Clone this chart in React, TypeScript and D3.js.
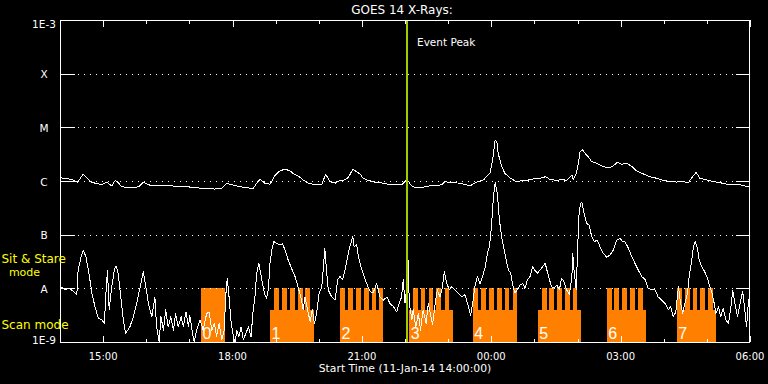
import React from 'react';
import * as d3 from 'd3';

// ---------- DATA ----------
// time axis: hours since start (11-Jan-14 14:00:00)
const xMajorHours = [1, 4, 7, 10, 13, 16];
const xMajorLabels = ['15:00', '18:00', '21:00', '00:00', '03:00', '06:00'];
const xMinorHours = [2, 3, 5, 6, 8, 9, 11, 12, 14, 15];

// flux axis (W/m^2)
const yLevels = [1e-3, 1e-4, 1e-5, 1e-6, 1e-7, 1e-8, 1e-9];
const yLabels = ['1E-3', 'X', 'M', 'C', 'B', 'A', '1E-9'];

// GOES 14 long channel (1-8 Å): [hour, log10 flux]
const longChannel: [number, number][] = [
  [0.02, -5.94], [0.27, -5.97], [0.41, -6.02], [0.54, -5.87], [0.70, -6.01], [0.81, -6.04], [0.97, -6.07],
  [1.08, -6.02], [1.20, -6.09], [1.28, -5.99], [1.35, -6.03], [1.43, -6.11], [1.66, -6.12], [1.82, -6.11],
  [1.93, -6.02], [2.09, -6.08], [2.36, -6.09], [2.59, -6.09], [2.82, -6.11], [2.98, -6.11], [3.21, -6.13],
  [3.44, -6.14], [3.59, -6.15], [3.75, -6.14], [3.87, -6.04], [3.98, -6.07], [4.21, -6.11], [4.37, -6.13],
  [4.48, -6.14], [4.56, -6.04], [4.64, -5.97], [4.75, -6.04], [4.87, -6.06], [4.99, -5.89], [5.10, -5.81],
  [5.22, -5.78], [5.33, -5.81], [5.41, -5.86], [5.53, -5.91], [5.64, -5.98], [5.76, -6.04], [5.91, -6.07],
  [6.07, -6.07], [6.16, -5.87], [6.26, -6.01], [6.38, -6.04], [6.49, -5.99], [6.61, -5.98], [6.69, -5.93],
  [6.79, -5.78], [6.88, -5.83], [6.96, -5.87], [7.03, -5.95], [7.15, -5.99], [7.30, -6.02], [7.42, -6.03],
  [7.61, -6.06], [7.92, -6.07], [8.05, -5.97], [8.12, -6.06], [8.19, -6.11], [8.31, -6.13], [8.46, -6.11],
  [8.58, -6.09], [8.73, -6.09], [8.85, -6.07], [8.93, -6.01], [9.04, -6.03], [9.28, -6.04], [9.51, -6.09],
  [9.66, -6.02], [9.82, -5.98], [9.89, -5.92], [9.97, -5.85], [10.03, -5.61], [10.09, -5.24], [10.13, -5.27],
  [10.16, -5.48], [10.24, -5.73], [10.32, -5.86], [10.43, -5.94], [10.55, -6.00], [10.67, -6.00], [10.82, -5.99],
  [10.98, -5.96], [11.13, -5.95], [11.26, -5.92], [11.36, -5.97], [11.52, -5.99], [11.63, -5.97], [11.75, -5.99],
  [11.87, -5.89], [11.90, -5.97], [11.97, -5.86], [12.02, -5.67], [12.06, -5.45], [12.12, -5.42], [12.17, -5.48],
  [12.25, -5.55], [12.33, -5.64], [12.45, -5.67], [12.60, -5.73], [12.71, -5.76], [12.83, -5.72], [12.92, -5.65],
  [13.02, -5.69], [13.14, -5.67], [13.26, -5.73], [13.37, -5.81], [13.53, -5.87], [13.68, -5.92], [13.84, -5.95],
  [13.99, -5.99], [14.15, -6.01], [14.30, -6.02], [14.45, -6.01], [14.57, -6.03], [14.67, -5.92], [14.75, -5.84],
  [14.84, -5.95], [15.00, -5.98], [15.15, -6.01], [15.30, -6.03], [15.46, -6.06], [15.61, -6.06], [15.77, -6.07],
  [15.98, -6.11],
];

// GOES 14 short channel (0.5-4 Å): [hour, log10 flux]
const shortChannel: [number, number][] = [
  [0.02, -7.97], [0.12, -8.02], [0.23, -8.00], [0.31, -8.06], [0.39, -8.12], [0.42, -7.66], [0.49, -7.41],
  [0.54, -7.29], [0.60, -7.41], [0.66, -7.66], [0.74, -8.09], [0.81, -8.34], [0.89, -8.56], [0.97, -8.59],
  [1.03, -8.65], [1.06, -8.16], [1.10, -7.66], [1.14, -8.40], [1.20, -7.97], [1.26, -7.66], [1.30, -7.58],
  [1.35, -7.72], [1.41, -8.16], [1.47, -8.59], [1.52, -8.84], [1.57, -8.78], [1.62, -8.72], [1.70, -8.53],
  [1.78, -8.28], [1.86, -7.97], [1.93, -7.69], [1.99, -7.97], [2.05, -8.28], [2.13, -8.53], [2.20, -8.16],
  [2.24, -8.72], [2.30, -9.02], [2.34, -8.53], [2.40, -8.78], [2.45, -8.40], [2.51, -8.72], [2.57, -8.53],
  [2.63, -8.78], [2.68, -8.47], [2.74, -8.72], [2.81, -8.53], [2.86, -8.72], [2.92, -8.44], [2.98, -8.72],
  [3.01, -8.50], [3.05, -8.72], [3.11, -9.02], [3.17, -8.78], [3.25, -8.59], [3.32, -8.78], [3.40, -8.47],
  [3.46, -8.44], [3.52, -8.78], [3.58, -8.65], [3.63, -8.90], [3.69, -8.65], [3.75, -8.96], [3.81, -8.78],
  [3.84, -8.16], [3.88, -7.81], [3.92, -8.16], [3.97, -8.65], [4.02, -8.90], [4.06, -9.02], [4.10, -8.78],
  [4.15, -8.90], [4.20, -8.72], [4.25, -8.96], [4.31, -8.84], [4.37, -8.72], [4.43, -8.90], [4.48, -8.40],
  [4.52, -8.16], [4.56, -7.72], [4.61, -7.53], [4.68, -7.84], [4.74, -8.09], [4.79, -8.19], [4.83, -8.03],
  [4.87, -7.53], [4.91, -7.29], [4.96, -7.13], [5.02, -7.16], [5.10, -7.19], [5.16, -7.17], [5.22, -7.29],
  [5.29, -7.47], [5.37, -7.63], [5.45, -7.78], [5.53, -8.00], [5.60, -8.22], [5.64, -8.40], [5.68, -8.16],
  [5.74, -8.40], [5.80, -8.62], [5.85, -8.40], [5.90, -8.65], [5.95, -8.47], [6.01, -8.09], [6.07, -7.97],
  [6.11, -7.60], [6.14, -7.25], [6.18, -7.66], [6.22, -8.03], [6.30, -8.16], [6.38, -8.22], [6.44, -7.84],
  [6.49, -7.78], [6.55, -7.84], [6.61, -7.66], [6.67, -7.41], [6.72, -7.22], [6.79, -7.04], [6.82, -7.22],
  [6.88, -7.19], [6.92, -7.41], [6.98, -7.60], [7.03, -7.72], [7.11, -7.91], [7.19, -8.06], [7.26, -8.09],
  [7.34, -7.91], [7.42, -8.16], [7.50, -8.22], [7.58, -8.16], [7.65, -8.28], [7.73, -8.34], [7.81, -8.44],
  [7.84, -8.34], [7.92, -8.16], [7.96, -7.84], [8.00, -8.28], [8.02, -8.16], [8.07, -7.47], [8.10, -8.28],
  [8.16, -8.59], [8.19, -8.40], [8.25, -8.72], [8.31, -8.47], [8.36, -8.78], [8.42, -8.40], [8.49, -8.65],
  [8.54, -8.28], [8.60, -8.53], [8.64, -8.68], [8.70, -8.28], [8.75, -8.03], [8.81, -8.16], [8.87, -7.97],
  [8.91, -7.69], [8.97, -7.91], [9.03, -8.03], [9.08, -7.97], [9.16, -8.03], [9.24, -8.09], [9.31, -8.16],
  [9.39, -8.12], [9.47, -8.34], [9.52, -8.50], [9.57, -8.28], [9.62, -7.97], [9.68, -7.78], [9.74, -7.91],
  [9.80, -7.78], [9.86, -7.60], [9.91, -7.35], [9.96, -7.22], [10.01, -6.79], [10.05, -6.29], [10.09, -6.03],
  [10.14, -6.23], [10.19, -6.73], [10.24, -7.04], [10.30, -7.29], [10.36, -7.53], [10.40, -7.66], [10.45, -7.72],
  [10.50, -7.94], [10.55, -8.09], [10.60, -8.03], [10.67, -7.94], [10.73, -7.91], [10.78, -8.00], [10.84, -7.84],
  [10.90, -7.78], [10.96, -7.60], [11.01, -7.66], [11.07, -7.72], [11.13, -7.66], [11.19, -7.60], [11.25, -7.53],
  [11.29, -7.66], [11.35, -7.84], [11.40, -7.97], [11.46, -8.00], [11.52, -7.94], [11.58, -8.03], [11.63, -7.81],
  [11.69, -7.88], [11.75, -8.03], [11.81, -8.12], [11.87, -7.78], [11.89, -7.35], [11.92, -7.66], [11.97, -8.03],
  [12.00, -7.35], [12.03, -6.67], [12.07, -6.42], [12.10, -6.39], [12.15, -6.60], [12.21, -6.79], [12.27, -6.82],
  [12.33, -7.04], [12.39, -7.13], [12.46, -7.10], [12.52, -7.22], [12.60, -7.35], [12.68, -7.42], [12.75, -7.38],
  [12.83, -7.29], [12.91, -7.10], [12.99, -7.07], [13.05, -7.13], [13.10, -7.13], [13.18, -7.25], [13.26, -7.41],
  [13.33, -7.53], [13.41, -7.66], [13.49, -7.78], [13.57, -7.84], [13.64, -8.00], [13.72, -8.03], [13.80, -8.03],
  [13.87, -8.16], [13.95, -8.22], [14.03, -8.28], [14.11, -8.40], [14.16, -8.34], [14.22, -8.53], [14.28, -8.44],
  [14.34, -7.97], [14.39, -8.28], [14.44, -8.47], [14.49, -8.28], [14.55, -8.09], [14.59, -7.78], [14.65, -7.47],
  [14.69, -7.22], [14.73, -7.13], [14.78, -7.25], [14.82, -7.47], [14.88, -7.60], [14.93, -7.66], [15.00, -7.78],
  [15.06, -7.94], [15.11, -8.06], [15.17, -8.28], [15.21, -8.47], [15.27, -8.34], [15.32, -8.53], [15.38, -8.37],
  [15.44, -8.59], [15.50, -8.65], [15.55, -8.40], [15.60, -8.03], [15.65, -8.28], [15.71, -8.53], [15.77, -8.28],
  [15.83, -8.06], [15.88, -8.40], [15.92, -8.72], [15.96, -8.28], [16.00, -8.09],
];

// IRIS observing blocks (hours since start)
const blockLabels = ['0', '1', '2', '3', '4', '5', '6', '7'];
const blockStarts = [3.27, 4.87, 6.49, 8.10, 9.57, 11.08, 12.68, 14.30];
const blockEnds = [3.83, 5.89, 7.48, 9.11, 10.59, 12.08, 13.59, 15.21];
const blockBaseTop = [1e-8, 4e-9, 4e-9, 4e-9, 4e-9, 4e-9, 4e-9, 4e-9];
const blockTeeth: number[][] = [
  [],
  [4.96, 5.15, 5.33, 5.52, 5.69],
  [6.49, 6.68, 6.86, 7.05, 7.23, 7.40],
  [8.19, 8.36, 8.55, 8.73, 8.92],
  [9.58, 9.77, 9.95, 10.13, 10.31, 10.50],
  [11.18, 11.35, 11.53, 11.72, 11.89],
  [12.68, 12.85, 13.03, 13.22, 13.40],
  [14.31, 14.50, 14.67, 14.84, 15.03],
];
const toothWidth = 0.109;
const toothTop = 1e-8;

const eventPeakHour = 8.05;

// ---------- CHART ----------
const W = 768;
const H = 384;
const PL = 60;
const PR = 750;
const PT = 20;
const PB = 342;

const ORANGE = '#ff8000';
const YELLOW = '#ffff00';
const GREEN = '#a0cc00';
const FONT = 'DejaVu Sans, sans-serif';

export default function App() {
  const x = d3.scaleLinear().domain([0, 16]).range([PL, PR]);
  const y = d3.scaleLog().domain([1e-9, 1e-3]).range([PB, PT]).clamp(true);

  const line = d3
    .line<[number, number]>()
    .x((d) => x(d[0]))
    .y((d) => y(Math.pow(10, d[1])));

  const eventX = Math.round(x(eventPeakHour));

  return (
    <svg
      width={W}
      height={H}
      style={{ position: 'absolute', left: 0, top: 0, background: '#000' }}
    >
      <rect x={0} y={0} width={W} height={H} fill="#000" />

      {/* scan blocks */}
      <g shapeRendering="crispEdges" fill={ORANGE}>
        {blockStarts.map((s, i) => (
          <g key={i}>
            <rect
              x={x(s)}
              y={y(blockBaseTop[i])}
              width={x(blockEnds[i]) - x(s)}
              height={PB - y(blockBaseTop[i])}
            />
            {blockTeeth[i].map((t, j) => {
              const x0 = x(t);
              const x1 = x(Math.min(t + toothWidth, blockEnds[i]));
              return (
                <rect key={j} x={x0} y={y(toothTop)} width={x1 - x0} height={PB - y(toothTop)} />
              );
            })}
          </g>
        ))}
      </g>

      {/* dotted grid lines */}
      <g shapeRendering="crispEdges">
        {yLevels.slice(1, -1).map((v, i) => {
          const yy = Math.round(y(v)) + 0.5;
          return (
            <g key={i}>
              <line x1={78} x2={736} y1={yy} y2={yy} stroke="#fff" strokeWidth={1} strokeDasharray="1 5" />
              <line x1={PL} x2={PL + 15} y1={yy} y2={yy} stroke="#fff" strokeWidth={1} />
              <line x1={PR - 14} x2={PR} y1={yy} y2={yy} stroke="#fff" strokeWidth={1} />
            </g>
          );
        })}
      </g>

      {/* data curves */}
      <g fill="none" stroke="#fff" strokeWidth={1} strokeLinejoin="round" shapeRendering="crispEdges">
        <path d={line(longChannel) || ''} />
        <path d={line(shortChannel) || ''} />
      </g>

      {/* block labels */}
      <g fontFamily="Liberation Sans, sans-serif" fontSize={16} fill="#fff">
        {blockStarts.map((s, i) => (
          <text key={i} x={x(s) + 1.5} y={339}>
            {blockLabels[i]}
          </text>
        ))}
      </g>

      {/* event peak */}
      <rect x={eventX - 1} y={PT} width={2} height={PB - PT} fill={GREEN} shapeRendering="crispEdges" />
      <text x={eventX + 10} y={46} fontFamily={FONT} fontSize={10.5} fill="#fff">
        Event Peak
      </text>

      {/* frame */}
      <rect
        x={PL + 0.5}
        y={PT + 0.5}
        width={PR - PL - 1}
        height={PB - PT}
        fill="none"
        stroke="#fff"
        strokeWidth={1}
        shapeRendering="crispEdges"
      />

      {/* time ticks */}
      <g stroke="#fff" strokeWidth={1} shapeRendering="crispEdges">
        {xMajorHours.map((h, i) => {
          const xx = Math.round(x(h)) + 0.5;
          return (
            <g key={'M' + i}>
              <line x1={xx} x2={xx} y1={PT} y2={PT + 7} />
              <line x1={xx} x2={xx} y1={PB} y2={PB - 6} />
            </g>
          );
        })}
        {xMinorHours.map((h, i) => {
          const xx = Math.round(x(h)) + 0.5;
          return (
            <g key={'m' + i}>
              <line x1={xx} x2={xx} y1={PT} y2={PT + 3.5} />
              <line x1={xx} x2={xx} y1={PB} y2={PB - 3.5} />
            </g>
          );
        })}
      </g>

      {/* time labels */}
      <g fontFamily={FONT} fontSize={10} fill="#fff" textAnchor="middle">
        {xMajorHours.map((h, i) => (
          <text key={i} x={x(h)} y={359.5}>
            {xMajorLabels[i]}
          </text>
        ))}
      </g>
      <text x={405} y={371.5} fontFamily={FONT} fontSize={10.8} fill="#fff" textAnchor="middle">
        Start Time (11-Jan-14 14:00:00)
      </text>

      {/* flux labels */}
      <g fontFamily={FONT} fontSize={10.5} fill="#fff" textAnchor="middle">
        {yLevels.map((v, i) => {
          const yy = Math.min(Math.max(y(v) + 4.5, 27.5), 343.5);
          return (
            <text key={i} x={44} y={yy}>
              {yLabels[i]}
            </text>
          );
        })}
      </g>

      {/* title */}
      <text x={402} y={13.5} fontFamily={FONT} fontSize={12} fill="#fff" textAnchor="middle">
        GOES 14 X-Rays:
      </text>

      {/* mode labels */}
      <g fontFamily={FONT} fontSize={12} fill={YELLOW}>
        <text x={1.5} y={263}>Sit &amp; Stare</text>
        <text x={24.5} y={275.5} textAnchor="middle" fontSize={11}>mode</text>
        <text x={1.5} y={329}>Scan mode</text>
      </g>
    </svg>
  );
}
